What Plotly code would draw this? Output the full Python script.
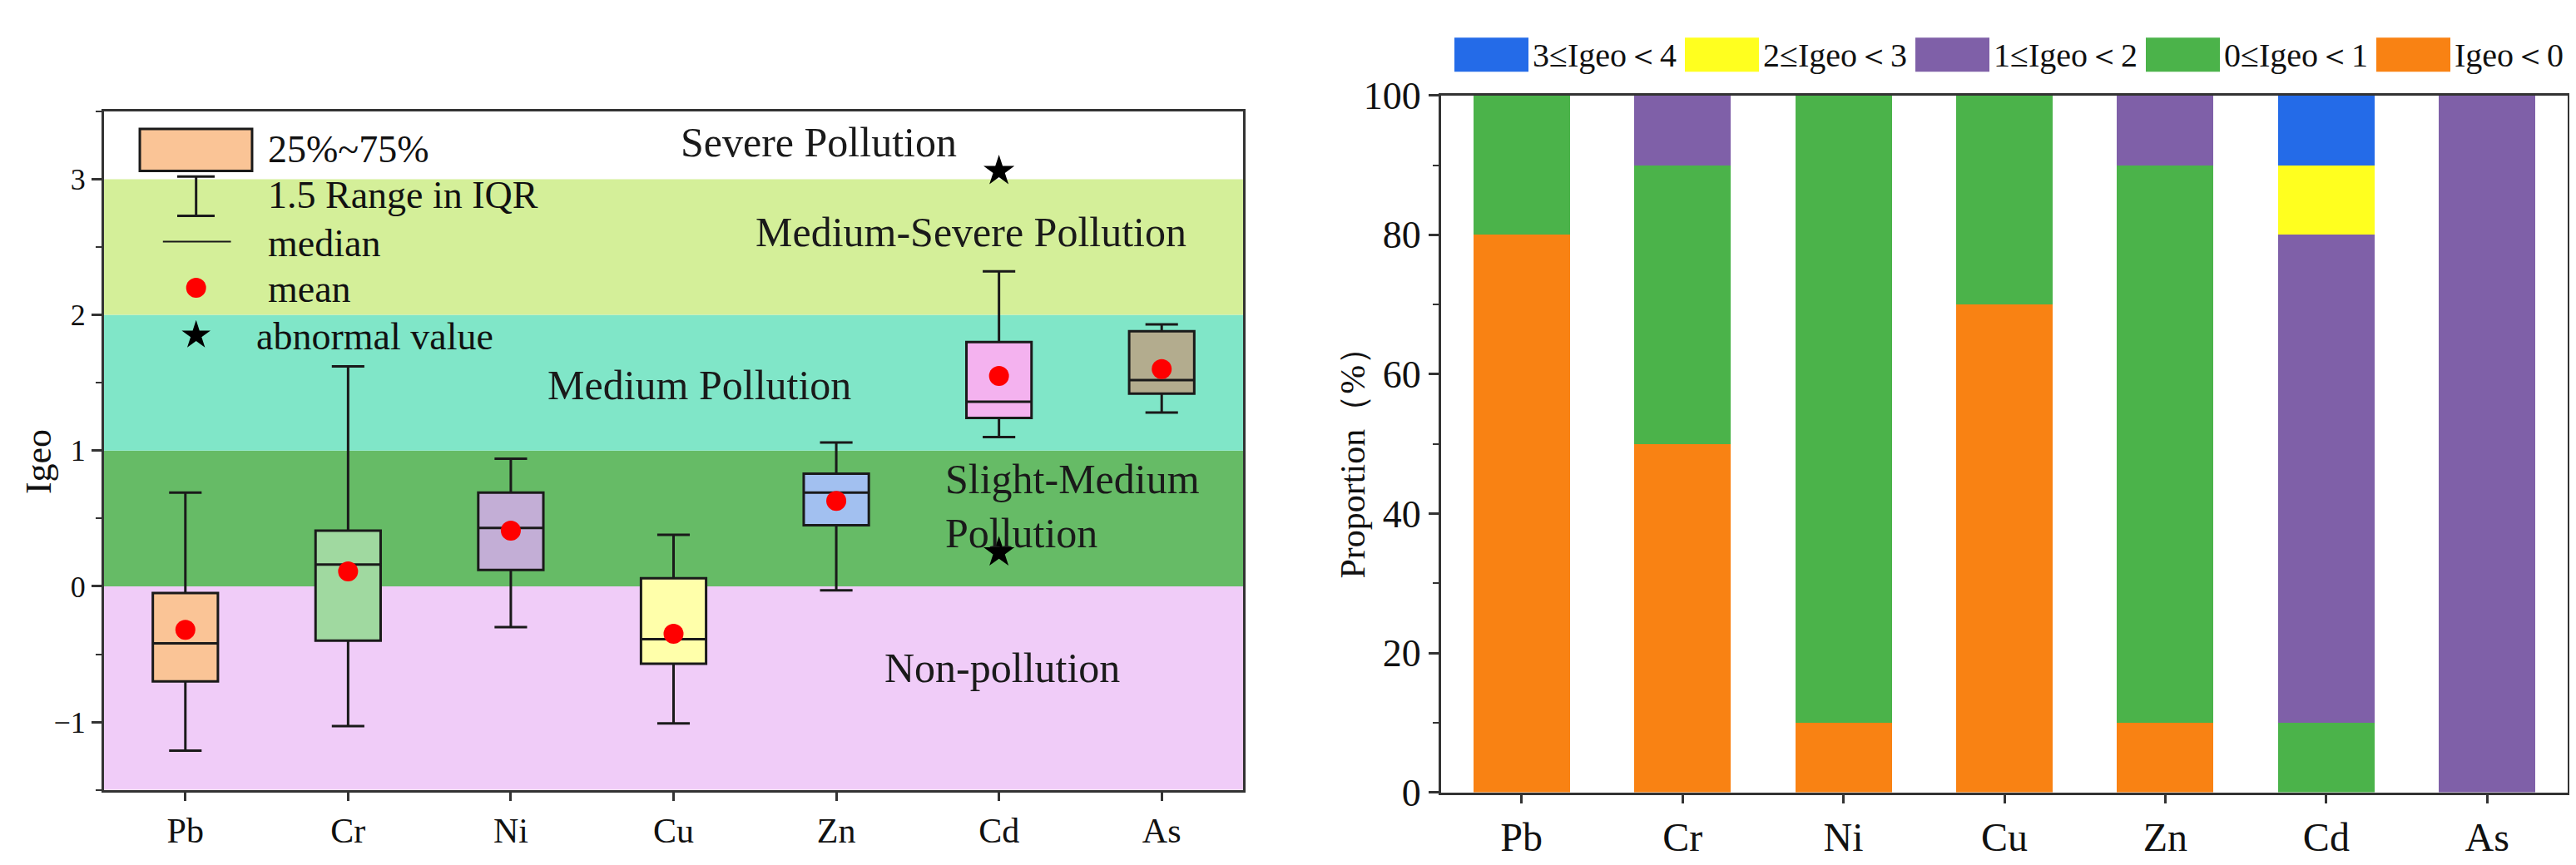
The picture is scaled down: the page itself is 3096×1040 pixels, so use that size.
"""
Igeo box plot + proportion stacked bars
"""
import plotly.graph_objects as go
from plotly.subplots import make_subplots

# Data ---
elements = ["Pb", "Cr", "Ni", "Cu", "Zn", "Cd", "As"]

# box plot statistics (Igeo)
igeo_q1 = [-0.70, -0.40, 0.12, -0.57, 0.45, 1.24, 1.42]
igeo_median = [-0.42, 0.16, 0.43, -0.39, 0.69, 1.36, 1.52]
igeo_q3 = [-0.05, 0.41, 0.69, 0.06, 0.83, 1.80, 1.88]
igeo_lower = [-1.21, -1.03, -0.30, -1.01, -0.03, 1.10, 1.28]
igeo_upper = [0.69, 1.62, 0.94, 0.38, 1.06, 2.32, 1.93]
igeo_mean = [-0.32, 0.11, 0.41, -0.35, 0.63, 1.55, 1.60]

# abnormal values
outlier_elements = ["Cd", "Cd"]
outlier_values = [3.06, 0.25]

# pollution classes (band edges on Igeo axis)
band_edges = [-1.5, 0, 1, 2, 3]
band_names = ["Non-pollution", "Slight-Medium<br>Pollution", "Medium Pollution",
              "Medium-Severe Pollution", "Severe Pollution"]

# proportion (%) of samples in each class
class_names = ["Igeo＜0", "0≤Igeo＜1", "1≤Igeo＜2", "2≤Igeo＜3", "3≤Igeo＜4"]
prop_lt0 = [80, 50, 10, 70, 10, 0, 0]
prop_0_1 = [20, 40, 90, 30, 80, 10, 0]
prop_1_2 = [0, 10, 0, 0, 10, 70, 100]
prop_2_3 = [0, 0, 0, 0, 0, 10, 0]
prop_3_4 = [0, 0, 0, 0, 0, 10, 0]
proportions = [prop_lt0, prop_0_1, prop_1_2, prop_2_3, prop_3_4]

# Styles ---
FONT = "Liberation Serif"
W, H = 3096, 1040
box_colors = ["#FAC496", "#A0D9A0", "#C3AED6", "#FFFFAA", "#A2C0F0", "#F4B2EF", "#B3AC8E"]
band_colors = ["#F0CCF8", "#66BB66", "#80E6C8", "#D4EF99"]
class_colors = ["#F98213", "#4BB34A", "#7F60A8", "#FFFF1F", "#246BE8"]
axis_color = "#333333"
text_color = "#111111"

# category positions on a numeric axis
pos = list(range(len(elements)))
pos_of = {el: p for el, p in zip(elements, pos)}

fig = make_subplots(rows=1, cols=2)

# Left: box plot ---
for i, el in enumerate(elements):
    fig.add_trace(go.Box(
        x=[pos[i]], q1=[igeo_q1[i]], median=[igeo_median[i]], q3=[igeo_q3[i]],
        lowerfence=[igeo_lower[i]], upperfence=[igeo_upper[i]],
        fillcolor=box_colors[i], line=dict(color="#1a1a1a", width=3),
        width=0.4, whiskerwidth=0.5, boxpoints=False, showlegend=False,
        hoverinfo="skip"), row=1, col=1)

fig.add_trace(go.Scatter(x=pos, y=igeo_mean, mode="markers",
                         marker=dict(color="#FF0000", size=24), showlegend=False),
              row=1, col=1)
fig.add_trace(go.Scatter(x=[pos_of[e] for e in outlier_elements], y=outlier_values,
                         mode="markers",
                         marker=dict(color="black", size=28, symbol="star"),
                         showlegend=False), row=1, col=1)

# background bands
for k in range(len(band_colors)):
    fig.add_shape(type="rect", xref="x domain", yref="y", x0=0, x1=1,
                  y0=band_edges[k], y1=band_edges[k + 1] if k + 1 < len(band_edges) else 3,
                  fillcolor=band_colors[k], line_width=0, layer="below")

# band labels
band_label_pos = [(5.02, -0.60, "center"), (4.66, 0.59, "left"), (3.16, 1.48, "center"),
                  (4.83, 2.61, "center"), (3.89, 3.27, "center")]
for name, (lx, ly, anc) in zip(band_names, band_label_pos):
    fig.add_annotation(x=lx, y=ly, xref="x", yref="y", text=name, showarrow=False,
                       xanchor=anc, yanchor="middle", align="left",
                       font=dict(family=FONT, size=50, color="#1a1a1a"))

# legend for the box plot (drawn by hand)
fig.add_shape(type="rect", xref="x", yref="y", x0=-0.28, x1=0.41, y0=3.06, y1=3.37,
              fillcolor=box_colors[0], line=dict(color="#1a1a1a", width=3))
fig.add_shape(type="line", xref="x", yref="y", x0=0.066, x1=0.066, y0=2.73, y1=3.02,
              line=dict(color="#1a1a1a", width=3))
for cy in (2.73, 3.02):
    fig.add_shape(type="line", xref="x", yref="y", x0=-0.05, x1=0.18, y0=cy, y1=cy,
                  line=dict(color="#1a1a1a", width=3))
fig.add_shape(type="line", xref="x", yref="y", x0=-0.138, x1=0.28, y0=2.54, y1=2.54,
              line=dict(color="#1a1a1a", width=2))
fig.add_trace(go.Scatter(x=[0.066], y=[2.20], mode="markers",
                         marker=dict(color="#FF0000", size=24), showlegend=False),
              row=1, col=1)
fig.add_trace(go.Scatter(x=[0.066], y=[1.85], mode="markers",
                         marker=dict(color="black", size=26, symbol="star"),
                         showlegend=False), row=1, col=1)
legend_texts = [("25%~75%", 0.495, 3.22), ("1.5 Range in IQR", 0.495, 2.88),
                ("median", 0.495, 2.53), ("mean", 0.495, 2.19),
                ("abnormal value", 0.423, 1.84)]
for txt, tx, ty in legend_texts:
    fig.add_annotation(x=tx, y=ty, xref="x", yref="y", text=txt, showarrow=False,
                       xanchor="left", yanchor="middle",
                       font=dict(family=FONT, size=46, color=text_color))

# Right: stacked bars ---
for name, vals, color in zip(class_names, proportions, class_colors):
    fig.add_trace(go.Bar(x=pos, y=vals, name=name, marker_color=color,
                         marker_line_width=0, width=0.6, showlegend=False),
                  row=1, col=2)

# legend for bars (drawn by hand, top row)
for j in range(len(class_names)):
    idx = len(class_names) - 1 - j
    sx = 1740 + j * 277
    fig.add_shape(type="rect", xref="paper", yref="paper",
                  x0=sx / W, x1=(sx + 89) / W, y0=1 - 56 / H, y1=1 - 13 / H,
                  fillcolor=class_colors[idx], line_width=0)
    fig.add_annotation(x=(sx + 92) / W, y=1 - 35 / H, xref="paper", yref="paper",
                       text=class_names[idx], showarrow=False,
                       xanchor="left", yanchor="middle",
                       font=dict(family=FONT, size=40, color=text_color))

# Axis titles
fig.add_annotation(x=38 / W, y=1 - 549 / H, xref="paper", yref="paper", text="Igeo",
                   textangle=-90, showarrow=False, xanchor="center", yanchor="middle",
                   font=dict(family=FONT, size=44, color=text_color))
fig.add_annotation(x=1618 / W, y=1 - 540 / H, xref="paper", yref="paper",
                   text="Proportion（%）", textangle=-90, showarrow=False,
                   xanchor="center", yanchor="middle",
                   font=dict(family=FONT, size=42, color=text_color))

# Axes ---
axis_common = dict(showline=True, linecolor=axis_color, linewidth=3, mirror=True,
                   showgrid=False, zeroline=False, ticks="outside", tickwidth=3,
                   tickcolor=axis_color)

fig.update_xaxes(axis_common, domain=[117 / W, 1486 / W], range=[-0.5, 6.5], ticklen=10,
                 tickvals=pos, ticktext=elements,
                 tickfont=dict(family=FONT, size=42, color=text_color), row=1, col=1)
fig.update_yaxes(axis_common, domain=[1 - 964 / H, 1 - 106 / H], range=[-1.5, 3.5],
                 dtick=1, ticklen=12, tickfont=dict(family=FONT, size=36, color=text_color),
                 minor=dict(ticks="outside", ticklen=7, tickwidth=2, dtick=0.5,
                            tickcolor=axis_color),
                 row=1, col=1)
fig.update_xaxes(axis_common, domain=[1724 / W, 3078 / W], range=[-0.5, 6.5], ticklen=10,
                 tickvals=pos, ticktext=elements,
                 tickfont=dict(family=FONT, size=48, color=text_color), row=1, col=2)
fig.update_yaxes(axis_common, domain=[1 - 967 / H, 1 - 86 / H], range=[0, 100],
                 dtick=20, ticklen=12, tickfont=dict(family=FONT, size=46, color=text_color),
                 minor=dict(ticks="outside", ticklen=7, tickwidth=2, dtick=10,
                            tickcolor=axis_color),
                 row=1, col=2)

fig.update_layout(width=W, height=H, barmode="stack", boxmode="overlay",
                  plot_bgcolor="white", paper_bgcolor="white",
                  margin=dict(l=0, r=0, t=0, b=0), showlegend=False,
                  font=dict(family=FONT, color=text_color))

fig.write_html("out.html")
